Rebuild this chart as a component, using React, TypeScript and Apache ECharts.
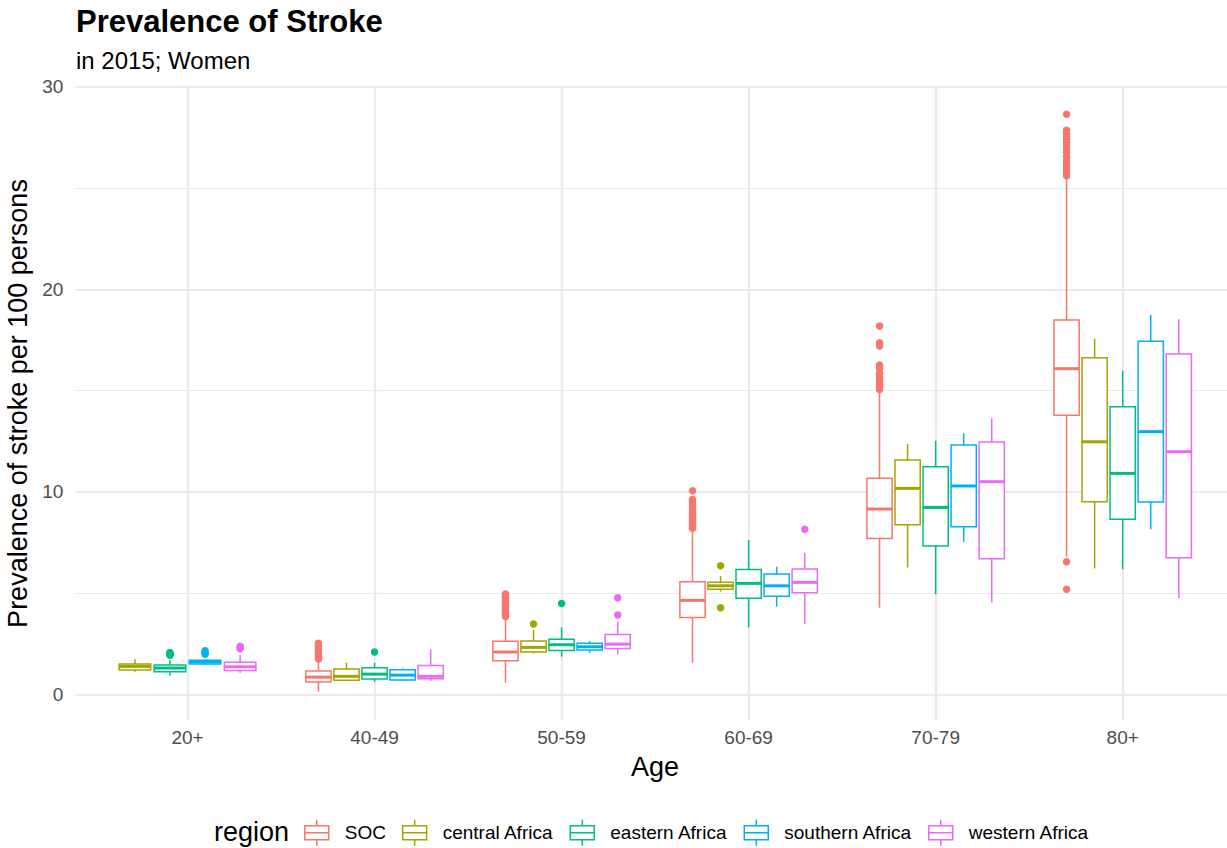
import React, { useEffect, useRef } from 'react';
import * as echarts from 'echarts';

const ageGroups = ['20+', '40-49', '50-59', '60-69', '70-79', '80+'];
const regions = ['SOC', 'central Africa', 'eastern Africa', 'southern Africa', 'western Africa'];
const regionColors = ['#F8766D', '#A3A500', '#00BF7D', '#00B0F6', '#E76BF3'];

// box statistics per age group: [lower whisker, Q1, median, Q3, upper whisker]
const socStats = [
  null,
  [0.13, 0.61, 0.85, 1.15, 1.69],
  [0.57, 1.66, 2.09, 2.62, 3.73],
  [1.56, 3.8, 4.64, 5.56, 8.03],
  [4.28, 7.7, 9.15, 10.67, 14.94],
  [6.8, 13.78, 16.08, 18.48, 25.48],
];
const centralStats = [
  [1.12, 1.2, 1.38, 1.5, 1.75],
  [0.68, 0.7, 0.89, 1.25, 1.56],
  [2.02, 2.09, 2.32, 2.63, 3.18],
  [5.07, 5.19, 5.36, 5.53, 5.84],
  [6.27, 8.38, 10.17, 11.57, 12.36],
  [6.22, 9.51, 12.47, 16.62, 17.56],
];
const easternStats = [
  [0.92, 1.12, 1.3, 1.45, 1.7],
  [0.62, 0.76, 1.0, 1.31, 1.56],
  [1.86, 2.17, 2.45, 2.72, 3.31],
  [3.31, 4.74, 5.48, 6.17, 7.62],
  [4.95, 7.32, 9.23, 11.24, 12.52],
  [6.17, 8.64, 10.91, 14.2, 15.98],
];
const southernStats = [
  [1.45, 1.5, 1.6, 1.69, 1.72],
  [0.66, 0.71, 0.95, 1.21, 1.28],
  [2.05, 2.19, 2.35, 2.52, 2.63],
  [4.33, 4.85, 5.36, 5.94, 6.3],
  [7.54, 8.28, 10.29, 12.31, 12.89],
  [8.15, 9.5, 12.97, 17.43, 18.73],
];
const westernStats = [
  [1.07, 1.18, 1.36, 1.58, 1.94],
  [0.66, 0.77, 0.89, 1.43, 2.22],
  [1.98, 2.27, 2.48, 2.96, 3.59],
  [3.47, 5.02, 5.53, 6.19, 6.99],
  [4.54, 6.7, 10.5, 12.46, 13.63],
  [4.74, 6.75, 11.98, 16.8, 18.52],
];

// outliers: [age group index, value]
const socOutliers = [
  [1, 1.75], [1, 1.82], [1, 1.9], [1, 1.97], [1, 2.05], [1, 2.12], [1, 2.2], [1, 2.28], [1, 2.36], [1, 2.44], [1, 2.52],
  [2, 3.85], [2, 3.95], [2, 4.05], [2, 4.15], [2, 4.25], [2, 4.35], [2, 4.45], [2, 4.55], [2, 4.65], [2, 4.75], [2, 4.85], [2, 4.95],
  [3, 8.2], [3, 8.3], [3, 8.4], [3, 8.5], [3, 8.6], [3, 8.7], [3, 8.8], [3, 8.9], [3, 9.0], [3, 9.15], [3, 9.3], [3, 9.5], [3, 9.62], [3, 10.05],
  [4, 15.05], [4, 15.15], [4, 15.25], [4, 15.35], [4, 15.45], [4, 15.55], [4, 15.7], [4, 15.85], [4, 16.1], [4, 16.26], [4, 17.2], [4, 17.36], [4, 18.19],
  [5, 5.19], [5, 6.55], [5, 25.6], [5, 25.75], [5, 25.9], [5, 26.05], [5, 26.2], [5, 26.35], [5, 26.55], [5, 26.75], [5, 26.9], [5, 27.1], [5, 27.25], [5, 27.4], [5, 27.55], [5, 27.7], [5, 27.85], [5, 28.64],
];
const centralOutliers = [[2, 3.47], [3, 6.35], [3, 4.28]];
const easternOutliers = [[0, 1.93], [0, 1.98], [0, 2.03], [0, 2.07], [1, 2.09], [2, 4.49]];
const southernOutliers = [[0, 1.98], [0, 2.06], [0, 2.15]];
const westernOutliers = [[0, 2.25], [0, 2.31], [0, 2.37], [2, 3.92], [2, 4.77], [3, 8.15]];

const yMajorTicks = [0, 10, 20, 30];
const yMinorTicks = [5, 15, 25];

const boxStats: (number[] | null)[][] = [socStats, centralStats, easternStats, southernStats, westernStats];
const outliers: number[][][] = [socOutliers, centralOutliers, easternOutliers, southernOutliers, westernOutliers];

const FONT = '"Liberation Sans", Arial, Helvetica, sans-serif';
const GRID_COLOR = '#EBEBEB';
const BOX_LW = 1.5;

// dodge: only regions having data at an age group share that group's width
const presence = ageGroups.map((_, ai) =>
  regions.map((_, ri) => ri).filter((ri) => boxStats[ri][ai] != null)
);
function slot(ai: number, ri: number) {
  const p = presence[ai];
  const n = p.length;
  const j = p.indexOf(ri);
  const w = 0.75 / n;
  return { cx: ai + (j - (n - 1) / 2) * w, w };
}

const boxIcon = 'path://M0,6 L24,6 L24,20 L0,20 Z M0,13 L24,13 M12,0 L12,6 M12,20 L12,26';

export default function App() {
  const ref = useRef<HTMLDivElement>(null);
  useEffect(() => {
    if (!ref.current) return;
    const chart = echarts.init(ref.current, undefined, { renderer: 'svg' });

    const series: any[] = [];
    regions.forEach((name, ri) => {
      const color = regionColors[ri];
      series.push({
        type: 'custom',
        name,
        xAxisIndex: 0,
        yAxisIndex: 0,
        data: boxStats[ri]
          .map((s, ai) => (s ? [ai, ...s] : null))
          .filter((d) => d != null),
        encode: { x: 0, y: [1, 2, 3, 4, 5] },
        itemStyle: { color },
        silent: true,
        z: 2,
        renderItem: (params: any, api: any) => {
          const ai = api.value(0);
          const mn = api.value(1), q1 = api.value(2), md = api.value(3), q3 = api.value(4), mx = api.value(5);
          const { cx, w } = slot(ai, ri);
          const hw = (w * 0.9) / 2;
          const xL = api.coord([cx - hw, md])[0];
          const xR = api.coord([cx + hw, md])[0];
          const xC = api.coord([cx, md])[0];
          const y = (v: number) => api.coord([cx, v])[1];
          return {
            type: 'group',
            children: [
              { type: 'line', shape: { x1: xC, y1: y(mx), x2: xC, y2: y(q3) }, style: { stroke: color, lineWidth: BOX_LW } },
              { type: 'line', shape: { x1: xC, y1: y(q1), x2: xC, y2: y(mn) }, style: { stroke: color, lineWidth: BOX_LW } },
              {
                type: 'rect',
                shape: { x: xL, y: y(q3), width: xR - xL, height: y(q1) - y(q3) },
                style: { fill: '#ffffff', stroke: color, lineWidth: BOX_LW },
              },
              { type: 'line', shape: { x1: xL, y1: y(md), x2: xR, y2: y(md) }, style: { stroke: color, lineWidth: 3 } },
            ],
          };
        },
      });
      series.push({
        type: 'scatter',
        name,
        xAxisIndex: 0,
        yAxisIndex: 0,
        data: outliers[ri].map(([ai, v]) => [slot(ai, ri).cx, v]),
        symbolSize: 7.5,
        itemStyle: { color, opacity: 1 },
        silent: true,
        z: 3,
      });
    });

    chart.setOption({
      animation: false,
      textStyle: { fontFamily: FONT },
      title: [
        {
          text: 'Prevalence of Stroke',
          left: 76,
          top: 6,
          padding: 0,
          textStyle: { fontSize: 31, fontWeight: 'bold', color: '#000', fontFamily: FONT },
        },
        {
          text: 'in 2015; Women',
          left: 76,
          top: 48,
          padding: 0,
          textStyle: { fontSize: 24, fontWeight: 'normal', color: '#000', fontFamily: FONT },
        },
      ],
      legend: {
        left: 304,
        top: 819,
        orient: 'horizontal',
        itemWidth: 24,
        itemHeight: 26,
        itemGap: 16,
        selectedMode: false,
        padding: 0,
        textStyle: { fontSize: 19, color: '#000', fontFamily: FONT, padding: [0, 0, 0, 11] },
        data: regions.map((r, i) => ({
          name: r,
          icon: boxIcon,
          itemStyle: { color: '#ffffff', borderColor: regionColors[i], borderWidth: BOX_LW },
        })),
      },
      graphic: [
        {
          type: 'text',
          x: 214,
          y: 832,
          style: { text: 'region', fontSize: 27, fontFamily: FONT, fill: '#000', verticalAlign: 'middle' },
        },
      ],
      grid: {
        left: 75.3,
        right: -7.9,
        top: 86.3,
        bottom: 127.3,
        outerBoundsMode: 'none',
        containLabel: false,
      },
      xAxis: [
        {
          type: 'value',
          min: -0.6,
          max: 5.6,
          name: 'Age',
          nameLocation: 'middle',
          nameGap: 33,
          nameTextStyle: { fontSize: 27, color: '#000', fontFamily: FONT },
          axisLine: { show: false },
          axisTick: { show: false, customValues: ageGroups.map((_, i) => i) },
          axisLabel: {
            customValues: ageGroups.map((_, i) => i),
            formatter: (v: number) => ageGroups[Math.round(v)] ?? '',
            fontSize: 19,
            color: '#4D4D4D',
            margin: 7,
            fontFamily: FONT,
          },
          splitLine: { show: true, lineStyle: { color: GRID_COLOR, width: 2.2 } },
        },
      ],
      yAxis: [
        {
          type: 'value',
          min: -1.3,
          max: 30.02,
          name: 'Prevalence of stroke per 100 persons',
          nameLocation: 'middle',
          nameGap: 38,
          nameTextStyle: { fontSize: 27, color: '#000', fontFamily: FONT },
          axisLine: { show: false },
          axisTick: { show: false, customValues: yMajorTicks },
          axisLabel: {
            customValues: yMajorTicks,
            fontSize: 19,
            color: '#4D4D4D',
            margin: 12,
            fontFamily: FONT,
          },
          splitLine: { show: true, lineStyle: { color: GRID_COLOR, width: 2.2 } },
          z: 1,
        },
        {
          type: 'value',
          min: -1.3,
          max: 30.02,
          position: 'left',
          axisLine: { show: false },
          axisTick: { show: false, customValues: yMinorTicks },
          axisLabel: { show: false, customValues: yMinorTicks },
          splitLine: { show: true, lineStyle: { color: GRID_COLOR, width: 1.1 } },
          z: 0,
        },
      ],
      series,
    });
    return () => chart.dispose();
  }, []);
  return (
    <div
      ref={ref}
      style={{ position: 'absolute', left: 0, top: 0, width: 1227, height: 848, background: '#fff' }}
    />
  );
}
